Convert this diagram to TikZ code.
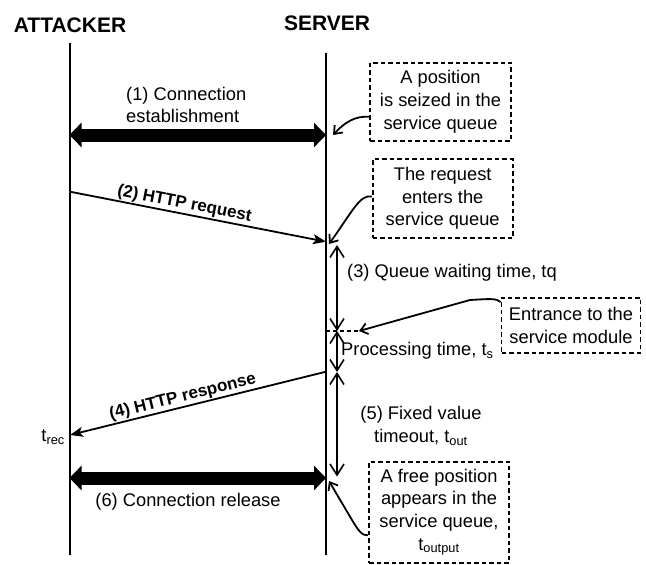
\documentclass[tikz,border=0pt]{standalone}
\usepackage{fontspec}
\setmainfont{Liberation Sans}
\usetikzlibrary{arrows.meta}
\begin{document}
\begin{tikzpicture}[x=1pt,y=-1pt,
  lifeline/.style={line width=2pt},
  txt/.style={font=\fontsize{18.3}{22.7}\selectfont, inner sep=0pt},
  boldlbl/.style={font=\bfseries\fontsize{17}{20}\selectfont, inner sep=1pt},
  title/.style={font=\bfseries\fontsize{21}{24}\selectfont, inner sep=0pt},
  note/.style={draw, line width=1.8pt, dash pattern=on 4.5pt off 3pt, inner sep=0pt,
     align=center, font=\fontsize{18.3}{22.7}\selectfont},
  fat/.style={line width=13pt, {Triangle[width=24pt,length=12pt]}-{Triangle[width=24pt,length=12pt]}},
  msg/.style={line width=1.8pt, -{Stealth[length=13pt,width=10pt,inset=3pt]}},
  span/.style={line width=1.6pt, {Straight Barb[length=11pt,width=14pt,line width=1.6pt]}-{Straight Barb[length=11pt,width=14pt,line width=1.6pt]}},
  ptr/.style={line width=1.8pt, -{Straight Barb[length=7pt,width=11pt,line width=1.8pt]}}]
\useasboundingbox (0,0) rectangle (646,565);

% titles
\node[title] (att) at (70,25) {ATTACKER};
\node[title] (srv) at (327,23) {SERVER};

% lifelines
\coordinate (a0) at (69.5,43);
\coordinate (a1) at (69.5,555);
\coordinate (s0) at (326,53);
\coordinate (s1) at (326,555);
\draw[lifeline] (a0) -- (a1);
\draw[lifeline] (s0) -- (s1);

% (1) connection establishment
\coordinate (c1a) at (69.5,135);
\coordinate (c1s) at (326,135);
\draw[fat] (c1a) -- (c1s);
\node[txt, anchor=west, align=left] (l1) at (126,105) {(1) Connection\\establishment};

% (2) HTTP request
\coordinate (r0) at (70,191.7);
\coordinate (r1) at (326,241.7);
\draw[msg] (r0) -- node[boldlbl, pos=0.44, above, sloped] (l2) {(2) HTTP request} (r1);

% (4) HTTP response
\coordinate (p0) at (326,371.7);
\coordinate (p1) at (70,435);
\draw[msg] (p0) -- node[boldlbl, pos=0.55, above, sloped] (l4) {(4) HTTP response} (p1);
\node[txt, anchor=east] (trec) at (65,437) {t\textsubscript{rec}};

% (6) connection release
\coordinate (c6a) at (69.5,478);
\coordinate (c6s) at (326,478);
\draw[fat] (c6a) -- (c6s);
\node[txt] (l6) at (188,502) {(6) Connection release};

% time spans
\coordinate (t0) at (337,245);
\coordinate (t1) at (337,331);
\coordinate (t2) at (337,372);
\coordinate (t3) at (337,476.5);
\draw[span] (t0) -- (t1);
\draw[span] (t1) -- (t2);
\draw[span] (t2) -- (t3);
\node[txt, anchor=west] (l3) at (347,273) {(3) Queue waiting time, tq};
\node[txt, anchor=west] (lp) at (341,351) {Processing time, t\textsubscript{s}};
\node[txt, align=center] (l5) at (421,426) {(5) Fixed value\\timeout, t\textsubscript{out}};

% notes
\node[note, minimum width=141pt, minimum height=78pt] (n1) at (440.5,101.7)
  {A position\\is seized in the\\service queue};
\node[note, minimum width=140pt, minimum height=79pt] (n2) at (442.7,198.5)
  {The request\\enters the\\service queue};
\node[note, minimum width=139pt, minimum height=55pt] (n3) at (571,325.4)
  {Entrance to the\\service module};
\node[note, minimum width=140pt, minimum height=101pt] (n4) at (439,512.3)
  {A free position\\appears in the\\service queue,\\t\textsubscript{output}};

% pointers
\coordinate (q1) at (333,135);
\coordinate (q2) at (329,244);
\coordinate (q3) at (359,331);
\coordinate (q3s) at (326,331);
\coordinate (q4) at (329,481);
\draw[ptr] ([yshift=-15pt]n1.west) .. controls (355,116) and (345,122) .. (q1);
\draw[ptr] ([yshift=2pt]n2.west) .. controls (360,194) and (352,212) .. (q2);
\draw[line width=1.6pt, dash pattern=on 4pt off 3pt] (q3s) -- (q3);
\draw[ptr] ([yshift=-5pt]n3.north west) .. controls (497,298) and (488,299) .. (470,300) -- (q3);
\draw[ptr] ([yshift=-23pt]n4.west) .. controls (362,536) and (358,530) .. (352,520) -- (q4);
\end{tikzpicture}
\end{document}
